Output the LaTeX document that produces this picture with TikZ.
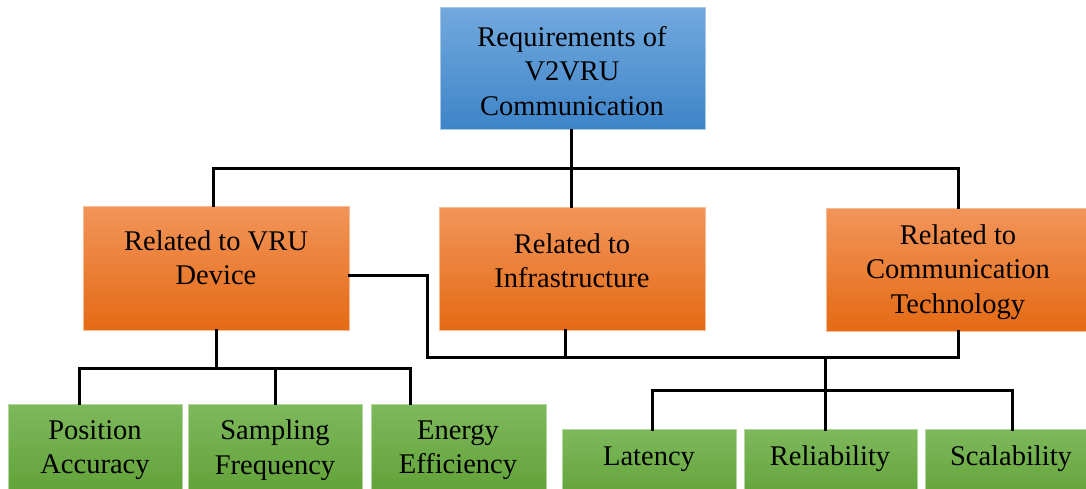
\documentclass[tikz,border=0pt]{standalone}
\usepackage{fontspec}
\setmainfont{Liberation Serif}
\newfontfamily\timesfont{Liberation Serif}
\definecolor{btop}{HTML}{72A9DE}
\definecolor{bbot}{HTML}{3D84C8}
\definecolor{bline}{HTML}{A9C8E8}
\definecolor{otop}{HTML}{F2955A}
\definecolor{obot}{HTML}{E46A14}
\definecolor{oline}{HTML}{F6BC94}
\definecolor{gtop}{HTML}{7EB95C}
\definecolor{gbot}{HTML}{5E9F34}
\definecolor{gline}{HTML}{B3D69E}
\tikzset{
  boxbase/.style={rectangle, inner sep=0pt, line width=1pt},
  bluebox/.style={boxbase, draw=bline, top color=btop, bottom color=bbot},
  orangebox/.style={boxbase, draw=oline, top color=otop, bottom color=obot},
  greenbox/.style={boxbase, draw=gline, top color=gtop, bottom color=gbot},
  txt/.style={align=center, inner sep=0pt, font=\timesfont\fontsize{28.5}{34.5}\selectfont, text=black},
  conn/.style={draw=black, line width=3pt, line cap=rect, line join=miter},
}
\begin{document}
\begin{tikzpicture}[x=1pt,y=-1pt]
\useasboundingbox (0,0) rectangle (1086,489);
\clip (0,0) rectangle (1086,489);
\fill[white] (0,0) rectangle (1086,489);

% boxes
\node[bluebox, minimum width=265pt, minimum height=122pt] (top) at (572.5,69) {};
\node[orangebox, minimum width=266pt, minimum height=124pt] (vru) at (216,268) {};
\node[orangebox, minimum width=266pt, minimum height=123pt] (infra) at (572,268.5) {};
\node[orangebox, minimum width=266pt, minimum height=123pt] (comm) at (959,269.5) {};

\node[greenbox, minimum width=174pt, minimum height=100pt] (pa) at (95,454) {};
\node[greenbox, minimum width=174pt, minimum height=100pt] (sf) at (275,454) {};
\node[greenbox, minimum width=175pt, minimum height=100pt] (ee) at (458.5,454) {};
\node[greenbox, minimum width=174pt, minimum height=80pt] (lat) at (649,469.5) {};
\node[greenbox, minimum width=173pt, minimum height=80pt] (rel) at (830.5,469.5) {};
\node[greenbox, minimum width=174pt, minimum height=80pt] (sca) at (1012,469.5) {};

% labels
\node[txt] (ttop) at (572,71) {Requirements of\\V2VRU\\Communication};
\node[txt] (tvru) at (216,258) {Related to VRU\\Device};
\node[txt] (tinfra) at (572,261) {Related to\\Infrastructure};
\node[txt] (tcomm) at (958,272) {Related to\\Communication\\Technology};
\node[txt] (tpa) at (95,450) {Position\\Accuracy};
\node[txt] (tsf) at (275,450) {Sampling\\Frequency};
\node[txt] (tee) at (458,450) {Energy\\Efficiency};
\node[txt] (tlat) at (649,459) {Latency};
\node[txt] (trel) at (830,459) {Reliability};
\node[txt] (tsca) at (1011,459) {Scalability};

% connectors level 1
\draw[conn] ([xshift=-1pt]top.south) -- ++(0,38) coordinate (j1);
\draw[conn] ([xshift=-3pt]vru.north) |- (j1) -| ([xshift=-1pt]comm.north);
\draw[conn] (j1) -- (j1 |- infra.north);

% connectors VRU device group
\draw[conn] (vru.south) -- ++(0,38) coordinate (j2);
\draw[conn] ([xshift=-16pt]pa.north) |- (j2) -| ([xshift=-48pt]ee.north);
\draw[conn] (j2 -| sf.north) -- (sf.north);

% connectors communication technology group
\coordinate (bus) at (427,357);
\draw[conn] ([yshift=-7pt]vru.east) -| (bus) -| ([xshift=-1pt]comm.south);
\draw[conn] ([xshift=-7pt]infra.south) -- ([xshift=-7pt]infra.south |- bus);
\coordinate (j3) at (825,357);
\draw[conn] (j3) -- ++(0,33) coordinate (j4);
\draw[conn] ([xshift=3pt]lat.north) |- (j4) -| (sca.north);
\draw[conn] (j4) -- (j4 |- rel.north);
\end{tikzpicture}
\end{document}
